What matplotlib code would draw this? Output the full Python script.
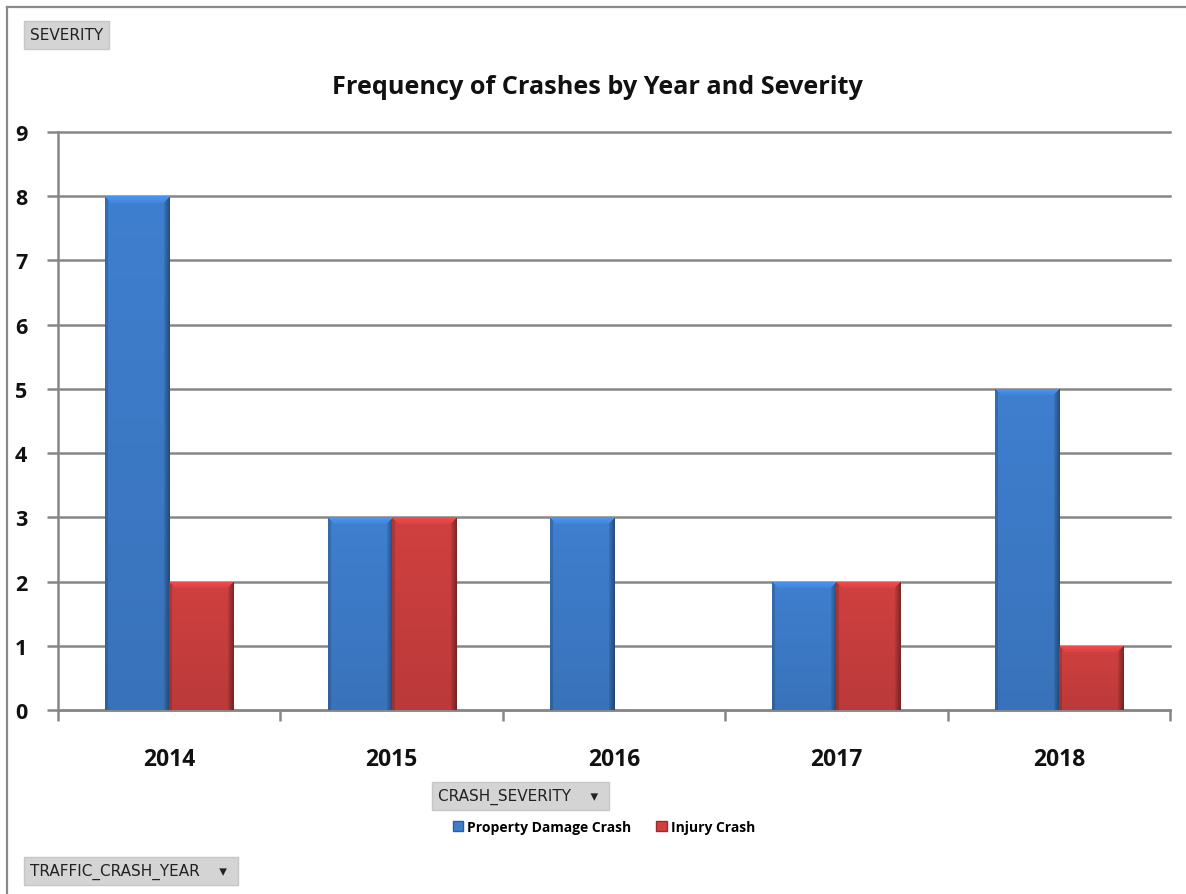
import numpy as np
import matplotlib
matplotlib.use("Agg")
import matplotlib.pyplot as plt
from matplotlib.colors import to_rgb
from matplotlib.lines import Line2D
from matplotlib.patches import Patch

years = ["2014", "2015", "2016", "2017", "2018"]
property_damage = [8, 3, 3, 2, 5]
injury = [2, 3, 0, 2, 1]
series_names = ["Property Damage Crash", "Injury Crash"]
yticks = list(range(0, 10))

BLUE = "#3f7fcf"
RED = "#d04040"

W, H = 1186, 895
fig = plt.figure(figsize=(W / 100, H / 100), dpi=100)
fig.patch.set_facecolor("white")

FONT = "Open Sans"

ax = fig.add_axes([58 / W, 1 - 711 / H, (1170 - 58) / W, (711 - 133) / H])
x = np.arange(len(years))
bw = 0.288
blue_bars = ax.bar(x - bw / 2, property_damage, bw, color=BLUE, zorder=3, linewidth=0)
red_bars = ax.bar(x + bw / 2, injury, bw, color=RED, zorder=3, linewidth=0)
ax.set_xlim(-0.5, len(years) - 0.5)
ax.set_ylim(0, 9)


def bevel_image(color, wpx, hpx):
    base = np.array(to_rgb(color))
    img = np.ones((hpx, wpx, 3)) * base
    shade = np.ones(wpx)
    shade[:3] = 0.85
    rw = 6
    shade[-rw:] = np.linspace(0.9, 0.62, rw)
    img *= shade[None, :, None]
    bev = 7
    for r in range(min(bev, hpx)):
        left = r
        right = wpx - 1 - r
        light = 1.18 - 0.02 * r
        img[r, left:right + 1] = np.clip(base * light, 0, 1)
    fade = np.linspace(1.0, 0.9, hpx)[:, None, None]
    img *= fade
    return np.clip(img, 0, 1)


fig.canvas.draw()
for bars, col in ((blue_bars, BLUE), (red_bars, RED)):
    for p in bars:
        h = p.get_height()
        if h <= 0:
            continue
        x0, y0 = p.get_x(), p.get_y()
        (px0, py0), (px1, py1) = ax.transData.transform([(x0, y0), (x0 + p.get_width(), y0 + h)])
        wpx = max(int(round(px1 - px0)), 8)
        hpx = max(int(round(py1 - py0)), 8)
        im = ax.imshow(bevel_image(col, wpx, hpx), aspect="auto",
                       extent=(x0, x0 + p.get_width(), y0, y0 + h), zorder=4, interpolation="nearest")
        im.set_clip_path(p)

ax.set_xlim(-0.5, len(years) - 0.5)
ax.set_ylim(0, 9)
ax.set_yticks(yticks)
ax.yaxis.grid(True, color="#878787", linewidth=1.8, zorder=0)
for gl in ax.get_ygridlines():
    gl.set_clip_on(False)
ax.set_axisbelow(True)

ax.set_xticks(np.arange(-0.5, len(years)), minor=False)
ax.set_xticklabels([])
ax.set_xticks(x, minor=True)
ax.set_xticklabels(years, minor=True)
ax.tick_params(axis="x", which="major", length=8, width=1.8, color="#878787", direction="out")
ax.tick_params(axis="x", which="minor", length=0, pad=27)
ax.tick_params(axis="y", length=8, width=1.8, color="#878787", pad=14)
for lab in ax.get_xticklabels(minor=True):
    lab.set_fontfamily(FONT)
    lab.set_fontweight("bold")
    lab.set_fontsize(16.5)
    lab.set_color("#111111")
for lab in ax.get_yticklabels():
    lab.set_fontfamily(FONT)
    lab.set_fontweight("bold")
    lab.set_fontsize(15.5)
    lab.set_color("#111111")

for s in ("top", "right"):
    ax.spines[s].set_visible(False)
for s in ("left", "bottom"):
    ax.spines[s].set_color("#878787")
    ax.spines[s].set_linewidth(1.8)

fig.text(597 / W, 1 - 88 / H, "Frequency of Crashes by Year and Severity", ha="center", va="center",
         fontfamily=FONT, fontweight="bold", fontsize=18.2, color="#111111")

# outer frame
fig.add_artist(Line2D([7 / W, 7 / W], [0, 1 - 8 / H], color="#8a8a8a", linewidth=1.6))
fig.add_artist(Line2D([7 / W, 1], [1 - 8 / H, 1 - 8 / H], color="#8a8a8a", linewidth=1.6))

btn = dict(boxstyle="square,pad=0.4", facecolor="#d4d4d4", edgecolor="#c6c6c6", linewidth=1)
fig.text(30 / W, 1 - 36 / H, "SEVERITY", ha="left", va="center", fontfamily="DejaVu Sans",
         fontsize=11, color="#222222", bbox=btn)
fig.text(438 / W, 1 - 797 / H, "CRASH_SEVERITY    \u25be ", ha="left", va="center", fontfamily="DejaVu Sans",
         fontsize=11, color="#222222", bbox=btn)
fig.text(30 / W, 1 - 872 / H, "TRAFFIC_CRASH_YEAR    \u25be ", ha="left", va="center", fontfamily="DejaVu Sans",
         fontsize=11, color="#222222", bbox=btn)

handles = [Patch(facecolor=BLUE, edgecolor="#2b5e9c"), Patch(facecolor=RED, edgecolor="#9c2a2a")]
leg = fig.legend(handles, series_names, loc="center", bbox_to_anchor=(604 / W, 1 - 828 / H), ncol=2,
                 frameon=False, handlelength=0.75, handleheight=0.75, handletextpad=0.3, columnspacing=1.8,
                 prop={"family": FONT, "weight": "bold", "size": 10})

fig.savefig("out.png", dpi=100, facecolor="white")
